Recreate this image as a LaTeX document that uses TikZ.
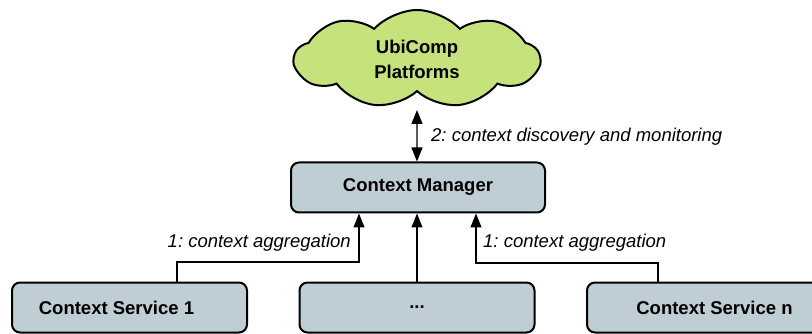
\documentclass[tikz,border=0pt]{standalone}
\usepackage{fontspec}
\setmainfont{Liberation Sans}
\usetikzlibrary{shapes.symbols,arrows.meta}
\definecolor{cloudgreen}{RGB}{197,226,125}
\definecolor{boxgrey}{RGB}{191,205,212}
\frenchspacing
\tikzset{
  compbox/.style={draw=black, line width=2pt, rounded corners=8pt, fill=boxgrey,
    minimum width=235pt, minimum height=50pt, inner sep=0pt,
    font=\fontsize{18.5}{22}\selectfont\bfseries},
  conn/.style={line width=1.3pt, -{Triangle[length=14pt,width=11pt]}},
  biconn/.style={line width=1.3pt, {Triangle[length=14pt,width=11pt]}-{Triangle[length=14pt,width=11pt]}},
  lbl/.style={font=\fontsize{18.5}{22}\selectfont\itshape, inner sep=0pt}
}
\begin{document}
\begin{tikzpicture}[x=1pt,y=-1pt]
  \useasboundingbox (0,0) rectangle (812,334);

  % cloud of platforms
  \node[cloud, cloud puffs=9, cloud puff arc=95, aspect=2.5, draw=black, line width=2pt,
        fill=cloudgreen, minimum width=245pt, minimum height=98pt, inner sep=0pt,
        align=center, font=\fontsize{18.5}{25}\selectfont\bfseries]
        (cloud) at (417,59) {UbiComp\\Platforms};

  % manager and services
  \node[compbox, minimum width=254pt] (CM) at (418,187.5) {Context Manager};
  \node[compbox] (S1) at (129.5,307.5) {\hspace*{-26pt}Context Service 1};
  \node[compbox] (S2) at (417,307.5) {...};
  \node[compbox] (Sn) at (704.5,307.5) {Context Service n\hspace*{-20pt}};

  % connectors
  \coordinate (s1x) at (177,0);
  \coordinate (k1) at (359,262);
  \coordinate (snx) at (658,0);
  \coordinate (kn) at (476,263);
  \coordinate (mx) at (417,0);

  \draw[biconn] (cloud.south |- 0,110) -- (CM.north -| mx);
  \draw[conn] (S1.north -| s1x) |- (k1) -- (CM.south -| k1);
  \draw[conn] (S2.north -| mx) -- (CM.south -| mx);
  \draw[conn] (Sn.north -| snx) |- (kn) -- (CM.south -| kn);

  % labels
  \node[lbl, anchor=west] (l2) at (431,137) {2: context discovery and monitoring};
  \node[lbl, anchor=east] (l1a) at (351,243) {1: context aggregation};
  \node[lbl, anchor=west] (l1b) at (483,243) {1: context aggregation};
\end{tikzpicture}
\end{document}
